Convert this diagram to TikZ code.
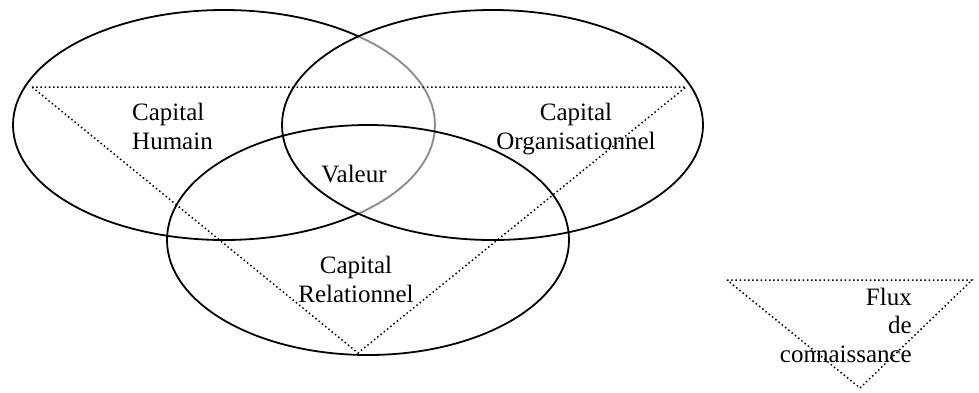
\documentclass[tikz,border=0pt]{standalone}
\usepackage{fontspec}
\setmainfont{Liberation Serif}
\usetikzlibrary{positioning}

\definecolor{grisarc}{gray}{0.55}

\begin{document}
\begin{tikzpicture}[x=1pt,y=-1pt,
      cercle/.style={draw=black,line width=1.8pt},
      arc gris/.style={draw=grisarc,line width=1.8pt},
      flux/.style={draw=black,line width=1.5pt,dash pattern=on 1.5pt off 2.7pt},
      etiquette/.style={inner sep=0pt,font=\fontsize{25}{28.5}\selectfont}]
    \useasboundingbox (0,0) rectangle (979,392);
    \coordinate (hum) at (224,125);
    \coordinate (org) at (492.5,125);
    \coordinate (rel) at (368,240);
    % ellipse Capital Humain, gris dans l'autre ellipse
    \draw[cercle] (hum) ellipse [x radius=211pt, y radius=115pt];
    \begin{scope}
      \clip (org) ellipse [x radius=210.5pt, y radius=115pt];
      \draw[draw=white,line width=2.6pt] (hum) ellipse [x radius=211pt, y radius=115pt];
      \draw[arc gris] (hum) ellipse [x radius=211pt, y radius=115pt];
    \end{scope}
    \draw[cercle] (org) ellipse [x radius=210.5pt, y radius=115pt];
    \draw[cercle] (rel) ellipse [x radius=201pt, y radius=115pt];
    % triangle du flux
    \coordinate (f1) at (32,87);
    \coordinate (f2) at (686,87);
    \coordinate (f3) at (358,353);
    \draw[flux] (f1) -- (f2) -- (f3) -- cycle;
    % legende
    \coordinate (l1) at (727,280);
    \coordinate (l2) at (972,280);
    \coordinate (l3) at (860,388);
    \draw[flux] (l1) -- (l2) -- (l3) -- cycle;
    \node[etiquette, align=left, anchor=base west] (humain) at (132,149) {Capital\\Humain};
    \node[etiquette, align=center, anchor=base] (orga) at (576,149) {Capital\\Organisationnel};
    \node[etiquette, anchor=base] (valeur) at (354,182) {Valeur};
    \node[etiquette, align=center, anchor=base] (relation) at (356,302) {Capital\\Relationnel};
    \node[etiquette, align=right, anchor=base east] (legende) at (912,362) {Flux\\de\\connaissance};
  \end{tikzpicture}
\end{document}
